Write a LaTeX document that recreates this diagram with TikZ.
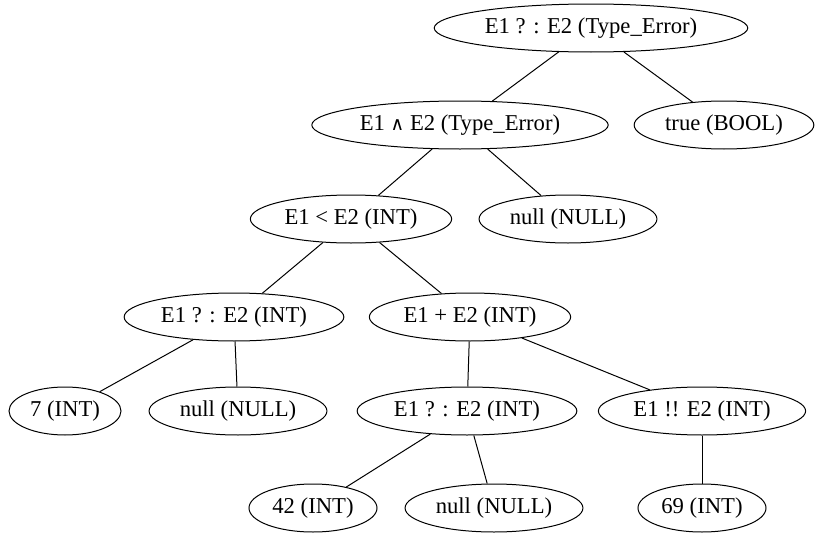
\documentclass[tikz,border=0pt]{standalone}
\usepackage{fontspec}
\setmainfont{Liberation Serif}
\newfontfamily\wedgefont{DejaVu Sans}
\usetikzlibrary{shapes.geometric}

\begin{document}
\begin{tikzpicture}[x=0.75pt,y=-0.75pt,
		tnode/.style={draw, ellipse, line width=0.75pt, minimum height=36pt, inner xsep=3.5pt, inner ysep=0pt, font=\fontsize{17}{20}\selectfont},
		tedge/.style={line width=0.75pt}]
			\useasboundingbox (0,0) rectangle (822,539);
			\node[tnode] (root) at (591,28) {E1 ? : E2 (Type\_Error)};
			\node[tnode] (and) at (460,125) {E1 {\wedgefont\fontsize{14}{17}\selectfont ∧} E2 (Type\_Error)};
			\node[tnode] (true) at (724,125) {true (BOOL)};
			\node[tnode] (lt) at (351,219) {E1 < E2 (INT)};
			\node[tnode] (nullA) at (568,219) {null (NULL)};
			\node[tnode] (ternA) at (234,317) {E1 ? : E2 (INT)};
			\node[tnode] (plus) at (470,317) {E1 + E2 (INT)};
			\node[tnode] (seven) at (65,411) {7 (INT)};
			\node[tnode] (nullB) at (238,411) {null (NULL)};
			\node[tnode] (ternB) at (467,411) {E1 ? : E2 (INT)};
			\node[tnode] (bang) at (702,411) {E1 !! E2 (INT)};
			\node[tnode] (fortytwo) at (313,508) {42 (INT)};
			\node[tnode] (nullC) at (494,508) {null (NULL)};
			\node[tnode] (sixtynine) at (702,508) {69 (INT)};
			\draw[tedge] (root) -- (and);
			\draw[tedge] (root) -- (true);
			\draw[tedge] (and) -- (lt);
			\draw[tedge] (and) -- (nullA);
			\draw[tedge] (lt) -- (ternA);
			\draw[tedge] (lt) -- (plus);
			\draw[tedge] (ternA) -- (seven);
			\draw[tedge] (ternA) -- (nullB);
			\draw[tedge] (plus) -- (ternB);
			\draw[tedge] (plus) -- (bang);
			\draw[tedge] (ternB) -- (fortytwo);
			\draw[tedge] (ternB) -- (nullC);
			\draw[tedge] (bang) -- (sixtynine);
\end{tikzpicture}
\end{document}
